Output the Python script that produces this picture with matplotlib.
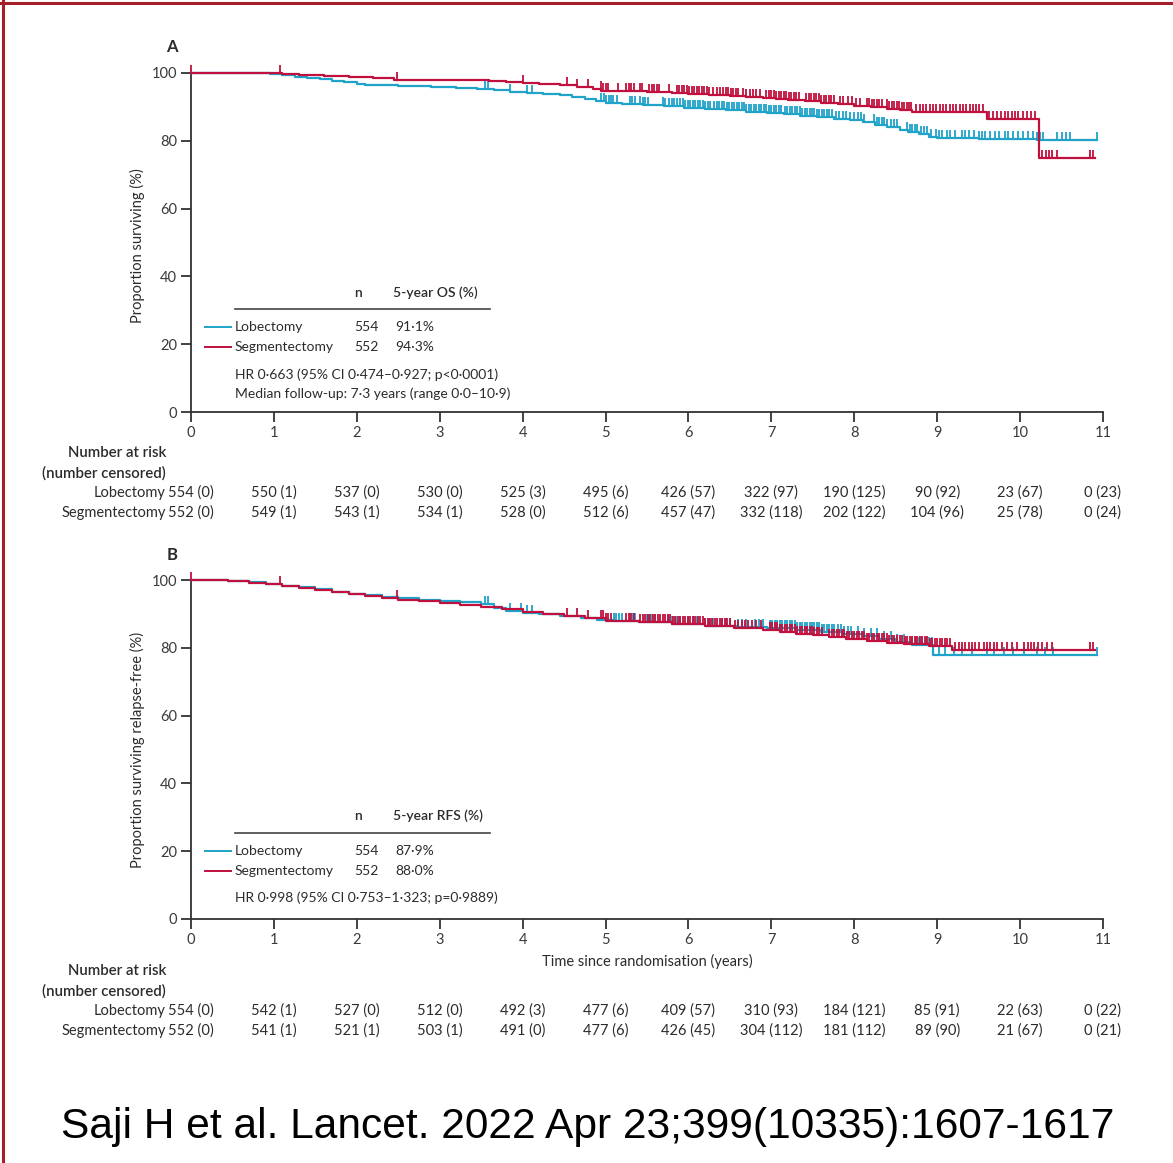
import numpy as np
import matplotlib
matplotlib.use("Agg")
import matplotlib.pyplot as plt
from matplotlib.lines import Line2D
from matplotlib.transforms import blended_transform_factory

plt.rcParams['font.family'] = ['Lato', 'DejaVu Sans']

BLUE = '#1fa3c9'
RED = '#c0103d'
TXT = '#2b2b2b'

years = list(range(12))

# ---- overall survival (panel A) ----
os_lob_t = [0, 0.95, 1.1, 1.25, 1.4, 1.55, 1.7, 1.85, 2.0, 2.1, 2.5, 2.9, 3.2, 3.45, 3.65,
            3.85, 4.05, 4.25, 4.45, 4.6, 4.75, 4.88, 5.0, 5.2, 5.45, 5.7, 5.95, 6.2, 6.45,
            6.7, 6.95, 7.15, 7.35, 7.55, 7.75, 7.95, 8.1, 8.25, 8.4, 8.55, 8.65, 8.78, 8.9,
            9.0, 9.5, 10.2]
os_lob_s = [100, 99.7, 99.3, 98.9, 98.5, 98.1, 97.7, 97.3, 96.9, 96.5, 96.3, 96.0, 95.7, 95.3,
            94.9, 94.5, 94.2, 93.9, 93.5, 93.0, 92.4, 91.8, 91.2, 90.9, 90.5, 90.2, 89.8, 89.4,
            89.0, 88.6, 88.2, 87.8, 87.3, 86.9, 86.5, 86.0, 85.4, 84.6, 84.0, 83.3, 82.7, 81.9,
            81.2, 80.8, 80.5, 80.2]
os_lob_cens = [3.55, 3.58, 3.85, 4.05, 4.11, 4.95, 4.98, 5.01, 5.04, 5.07, 5.09, 5.14, 5.29,
               5.32, 5.35, 5.42, 5.45, 5.48, 5.51, 5.69, 5.72, 5.76, 5.8, 5.83, 5.86, 5.9, 5.93,
               5.96, 5.99, 6.02, 6.05, 6.08, 6.11, 6.14, 6.17, 6.2, 6.23, 6.26, 6.31, 6.34,
               6.37, 6.4, 6.43, 6.46, 6.49, 6.52, 6.55, 6.58, 6.61, 6.64, 6.67, 6.7, 6.73, 6.76,
               6.79, 6.82, 6.85, 6.88, 6.91, 6.94, 6.97, 7.0, 7.03, 7.06, 7.09, 7.12, 7.16,
               7.19, 7.22, 7.25, 7.28, 7.31, 7.34, 7.37, 7.4, 7.43, 7.46, 7.49, 7.52, 7.55,
               7.58, 7.61, 7.64, 7.67, 7.7, 7.73, 7.78, 7.82, 7.86, 7.9, 7.95, 8.0, 8.04, 8.08,
               8.12, 8.24, 8.27, 8.3, 8.33, 8.36, 8.4, 8.44, 8.48, 8.52, 8.64, 8.67, 8.7, 8.73,
               8.76, 8.8, 8.84, 8.88, 8.92, 8.98, 9.02, 9.06, 9.12, 9.16, 9.22, 9.3, 9.34,
               9.38, 9.44, 9.5, 9.54, 9.58, 9.64, 9.7, 9.74, 9.82, 9.86, 9.92, 9.98, 10.04,
               10.1, 10.16, 10.2, 10.24, 10.28, 10.45, 10.5, 10.55, 10.6, 10.93]

os_seg_t = [0, 1.1, 1.3, 1.6, 1.9, 2.2, 2.45, 3.0, 3.6, 3.8, 4.0, 4.2, 4.45, 4.65, 4.85, 4.95,
            5.2, 5.5, 5.8, 6.0, 6.25, 6.5, 6.7, 6.9, 7.05, 7.2, 7.4, 7.6, 7.8, 8.0, 8.2, 8.4,
            8.55, 8.7, 9.6, 10.23]
os_seg_s = [100, 99.7, 99.4, 99.0, 98.7, 98.4, 97.9, 97.8, 97.6, 97.3, 97.0, 96.8, 96.4, 95.9,
            95.3, 94.8, 94.6, 94.4, 94.1, 93.8, 93.5, 93.2, 92.9, 92.6, 92.3, 92.0, 91.6, 91.2,
            90.8, 90.4, 90.0, 89.5, 89.1, 88.6, 86.5, 74.8]
os_seg_cens = [0.0, 1.07, 2.48, 4.0, 4.53, 4.65, 4.79, 4.94, 4.97, 5.0, 5.03, 5.15, 5.25, 5.28,
               5.31, 5.34, 5.41, 5.44, 5.53, 5.56, 5.59, 5.62, 5.65, 5.77, 5.86, 5.89, 5.92,
               5.95, 5.98, 6.01, 6.04, 6.07, 6.1, 6.13, 6.16, 6.19, 6.22, 6.25, 6.3, 6.34,
               6.38, 6.42, 6.45, 6.48, 6.51, 6.54, 6.57, 6.6, 6.66, 6.7, 6.74, 6.78, 6.82,
               6.86, 6.94, 6.97, 7.0, 7.03, 7.06, 7.09, 7.12, 7.15, 7.18, 7.21, 7.24, 7.27,
               7.3, 7.33, 7.42, 7.45, 7.48, 7.51, 7.54, 7.57, 7.6, 7.63, 7.66, 7.69, 7.72,
               7.75, 7.83, 7.87, 7.92, 7.97, 8.02, 8.07, 8.15, 8.18, 8.21, 8.24, 8.27, 8.3,
               8.33, 8.39, 8.42, 8.45, 8.48, 8.51, 8.54, 8.57, 8.6, 8.63, 8.66, 8.69, 8.75,
               8.79, 8.83, 8.87, 8.91, 8.95, 8.99, 9.03, 9.07, 9.11, 9.15, 9.19, 9.23, 9.27,
               9.31, 9.35, 9.39, 9.43, 9.47, 9.51, 9.55, 9.63, 9.67, 9.72, 9.77, 9.82, 9.86,
               9.9, 9.94, 9.98, 10.03, 10.08, 10.13, 10.18, 10.27, 10.31, 10.35, 10.39, 10.44,
               10.84, 10.88]

# ---- relapse-free survival (panel B) ----
rfs_lob_t = [0, 0.45, 0.7, 0.9, 1.1, 1.3, 1.5, 1.7, 1.9, 2.1, 2.3, 2.5, 2.75, 3.0, 3.25, 3.5,
             3.65, 3.8, 4.0, 4.2, 4.45, 4.7, 4.9, 5.1, 5.4, 5.8, 6.2, 6.6, 6.95, 7.3, 7.6,
             7.85, 8.1, 8.3, 8.5, 8.7, 8.95]
rfs_lob_s = [100, 99.7, 99.3, 98.8, 98.3, 97.8, 97.2, 96.6, 96.0, 95.5, 95.0, 94.6, 94.2, 93.8,
             93.4, 93.0, 91.8, 90.9, 90.4, 89.9, 89.4, 88.9, 88.3, 87.9, 87.5, 87.0, 86.5,
             86.1, 85.7, 85.2, 84.8, 84.2, 83.4, 82.6, 81.6, 80.8, 78.0]
rfs_lob_cens = [3.55, 3.58, 3.85, 3.98, 4.05, 4.11, 5.1, 5.13, 5.16, 5.2, 5.3, 5.33, 5.36, 5.5,
                5.53, 5.56, 5.6, 5.75, 5.8, 5.85, 5.9, 6.0, 6.05, 6.1, 6.2, 6.25, 6.3, 6.4,
                6.45, 6.5, 6.6, 6.65, 6.7, 6.8, 6.85, 6.9, 6.98, 7.01, 7.04, 7.07, 7.1, 7.13,
                7.16, 7.19, 7.22, 7.25, 7.28, 7.31, 7.34, 7.37, 7.4, 7.43, 7.46, 7.49, 7.52,
                7.55, 7.58, 7.61, 7.64, 7.67, 7.7, 7.73, 7.76, 7.8, 7.84, 7.88, 7.92, 7.96,
                8.05, 8.12, 8.2, 8.28, 8.36, 8.44, 8.52, 8.6, 8.7, 8.74, 8.78, 8.82, 8.86, 8.9,
                8.94, 9.02, 9.1, 9.2, 9.3, 9.42, 9.6, 9.68, 9.8, 9.92, 10.05, 10.2, 10.3, 10.4,
                10.93]

rfs_seg_t = [0, 0.45, 0.7, 0.9, 1.1, 1.3, 1.5, 1.7, 1.9, 2.1, 2.3, 2.5, 2.75, 3.0, 3.25, 3.5,
             3.75, 4.0, 4.25, 4.5, 4.75, 5.0, 5.4, 5.8, 6.2, 6.55, 6.9, 7.1, 7.3, 7.5, 7.7,
             7.9, 8.15, 8.4, 8.6, 8.9, 9.18]
rfs_seg_s = [100, 99.7, 99.2, 98.7, 98.2, 97.6, 97.0, 96.4, 95.8, 95.2, 94.7, 94.2, 93.7, 93.1,
             92.5, 91.9, 91.3, 90.6, 90.0, 89.4, 88.7, 88.0, 87.6, 87.1, 86.5, 85.9, 85.2, 84.7,
             84.2, 83.7, 83.2, 82.7, 82.1, 81.5, 81.1, 80.6, 79.4]
rfs_seg_cens = [0.0, 1.07, 2.48, 4.53, 4.65, 4.79, 4.94, 4.97, 5.0, 5.03, 5.06, 5.25, 5.28,
                5.31, 5.34, 5.42, 5.45, 5.48, 5.51, 5.54, 5.57, 5.6, 5.63, 5.66, 5.69, 5.72,
                5.75, 5.78, 5.81, 5.84, 5.87, 5.9, 5.93, 5.96, 5.99, 6.02, 6.05, 6.08, 6.11,
                6.14, 6.17, 6.2, 6.23, 6.26, 6.29, 6.32, 6.35, 6.38, 6.41, 6.44, 6.47, 6.5,
                6.56, 6.6, 6.64, 6.68, 6.72, 6.77, 6.82, 6.87, 6.98, 7.01, 7.04, 7.07, 7.1,
                7.13, 7.16, 7.19, 7.22, 7.25, 7.28, 7.31, 7.34, 7.37, 7.4, 7.43, 7.46, 7.49,
                7.52, 7.55, 7.58, 7.61, 7.7, 7.73, 7.76, 7.79, 7.82, 7.85, 7.88, 7.91, 7.94,
                7.97, 8.0, 8.03, 8.06, 8.09, 8.12, 8.15, 8.18, 8.21, 8.24, 8.27, 8.3, 8.33,
                8.36, 8.39, 8.42, 8.45, 8.48, 8.51, 8.55, 8.58, 8.61, 8.64, 8.67, 8.7, 8.73,
                8.76, 8.79, 8.82, 8.85, 8.88, 8.91, 8.94, 8.97, 9.0, 9.03, 9.06, 9.09, 9.12,
                9.15, 9.22, 9.26, 9.3, 9.34, 9.38, 9.42, 9.46, 9.5, 9.56, 9.6, 9.64, 9.68,
                9.72, 9.78, 9.84, 9.9, 9.96, 10.05, 10.09, 10.13, 10.17, 10.21, 10.26, 10.32,
                10.38, 10.84, 10.88]

# ---- numbers at risk (number censored) ----
os_risk_lob = ['554 (0)', '550 (1)', '537 (0)', '530 (0)', '525 (3)', '495 (6)', '426 (57)',
               '322 (97)', '190 (125)', '90 (92)', '23 (67)', '0 (23)']
os_risk_seg = ['552 (0)', '549 (1)', '543 (1)', '534 (1)', '528 (0)', '512 (6)', '457 (47)',
               '332 (118)', '202 (122)', '104 (96)', '25 (78)', '0 (24)']
rfs_risk_lob = ['554 (0)', '542 (1)', '527 (0)', '512 (0)', '492 (3)', '477 (6)', '409 (57)',
                '310 (93)', '184 (121)', '85 (91)', '22 (63)', '0 (22)']
rfs_risk_seg = ['552 (0)', '541 (1)', '521 (1)', '503 (1)', '491 (0)', '477 (6)', '426 (45)',
                '304 (112)', '181 (112)', '89 (90)', '21 (67)', '0 (21)']

groups = ['Lobectomy', 'Segmentectomy']
group_n = ['554', '552']
os_5yr = ['91·1%', '94·3%']
rfs_5yr = ['87·9%', '88·0%']

W, H = 1173, 1163


def fy(py):
    # pixel row -> figure fraction
    return 1 - py / H


def step_value(t, s, x):
    idx = np.searchsorted(t, x, side='right') - 1
    return np.asarray(s)[idx]


def km(ax, t, s, cens, color, t_end):
    ax.step(list(t) + [t_end], list(s) + [s[-1]], where='post', color=color,
            lw=1.6, clip_on=False, zorder=3)
    ax.plot(cens, step_value(t, s, cens), ls='none', marker=2, ms=5.5, mew=1.3,
            color=color, clip_on=False, zorder=3)


def style_axes(ax):
    ax.set_xlim(0, 11)
    ax.set_ylim(0, 100)
    ax.set_xticks(years)
    ax.set_yticks(range(0, 101, 20))
    for side in ('top', 'right'):
        ax.spines[side].set_visible(False)
    for side in ('left', 'bottom'):
        ax.spines[side].set_linewidth(1.3)
        ax.spines[side].set_color('#333333')
    ax.tick_params(direction='out', length=7, width=1.3, color='#333333',
                   labelsize=10.5, labelcolor='#3a3a3a', pad=3)


def legend_block(ax, header, rows_y, line_y, head_y, values, notes, note_y):
    ax.text(1.97, head_y, 'n', fontsize=10, color=TXT, va='center', fontweight='semibold')
    ax.text(2.44, head_y, header, fontsize=10, color=TXT, va='center', fontweight='semibold')
    ax.plot([0.53, 3.61], [line_y, line_y], color='#444444', lw=1.2, clip_on=False)
    for yy, col, name, n, v in zip(rows_y, (BLUE, RED), groups, group_n, values):
        ax.plot([0.17, 0.48], [yy, yy], color=col, lw=1.4)
        ax.text(0.53, yy, name, fontsize=10, color=TXT, va='center')
        ax.text(1.97, yy, n, fontsize=10, color=TXT, va='center')
        ax.text(2.46, yy, v, fontsize=10, color=TXT, va='center')
    for yy, note in zip(note_y, notes):
        ax.text(0.53, yy, note, fontsize=10, color=TXT, va='center')


def risk_table(ax, rows_py, lob, seg):
    tr = blended_transform_factory(ax.transData, fig.transFigure)
    xr = (166 - 191) / 82.9
    ax.text(xr, fy(rows_py[0]), 'Number at risk', transform=tr, ha='right', va='center',
            fontsize=10.8, color=TXT, fontweight='semibold')
    ax.text(xr, fy(rows_py[1]), '(number censored)', transform=tr, ha='right', va='center',
            fontsize=10.8, color=TXT, fontweight='semibold')
    for py, name, vals in zip(rows_py[2:], groups, (lob, seg)):
        ax.text(xr, fy(py), name, transform=tr, ha='right', va='center', fontsize=10.5,
                color=TXT)
        for x, v in zip(years, vals):
            ax.text(x, fy(py), v, transform=tr, ha='center', va='center', fontsize=10.5,
                    color=TXT, clip_on=False)


fig = plt.figure(figsize=(W / 100, H / 100), dpi=100)
left, width = 191 / W, 912 / W
axA = fig.add_axes([left, fy(412), width, (412 - 73) / H])
axB = fig.add_axes([left, fy(919), width, (919 - 580) / H])

# panel A
km(axA, os_lob_t, os_lob_s, os_lob_cens, BLUE, 10.93)
km(axA, os_seg_t, os_seg_s, os_seg_cens, RED, 10.9)
style_axes(axA)
legend_block(axA, '5-year OS (%)', [25.1, 19.2], 30.4, 35.1, os_5yr,
             ['HR 0·663 (95% CI 0·474–0·927; p<0·0001)',
              'Median follow-up: 7·3 years (range 0·0–10·9)'], [10.9, 5.3])
risk_table(axA, [453, 473, 493, 513], os_risk_lob, os_risk_seg)

# panel B
km(axB, rfs_lob_t, rfs_lob_s, rfs_lob_cens, BLUE, 10.93)
km(axB, rfs_seg_t, rfs_seg_s, rfs_seg_cens, RED, 10.9)
style_axes(axB)
legend_block(axB, '5-year RFS (%)', [20.1, 14.2], 25.4, 30.4, rfs_5yr,
             ['HR 0·998 (95% CI 0·753–1·323; p=0·9889)'], [6.2])
risk_table(axB, [971, 991, 1011, 1031], rfs_risk_lob, rfs_risk_seg)

fig.text(647 / W, fy(961), 'Time since randomisation (years)', ha='center', va='center',
         fontsize=10.5, color=TXT)
fig.text(137 / W, fy(246), 'Proportion surviving (%)', rotation=90, ha='center',
         va='center', fontsize=10.5, color=TXT)
fig.text(137 / W, fy(750), 'Proportion surviving relapse-free (%)', rotation=90,
         ha='center', va='center', fontsize=10.5, color=TXT)
fig.text(172 / W, fy(47), 'A', ha='center', va='center', fontsize=12, fontweight='bold',
         color=TXT)
fig.text(172 / W, fy(555), 'B', ha='center', va='center', fontsize=12, fontweight='bold',
         color=TXT)

fig.text(588 / W, fy(1127), 'Saji H et al. Lancet. 2022 Apr 23;399(10335):1607-1617',
         ha='center', va='center', fontsize=30.6, family='Liberation Sans', color='black')

# frame along the top and left edges
fig.add_artist(Line2D([0, 1], [fy(3), fy(3)], transform=fig.transFigure,
                      color='#a51f28', lw=2.2))
fig.add_artist(Line2D([3 / W, 3 / W], [0, 1], transform=fig.transFigure,
                      color='#a51f28', lw=2.2))

fig.savefig('out.png', dpi=100)
